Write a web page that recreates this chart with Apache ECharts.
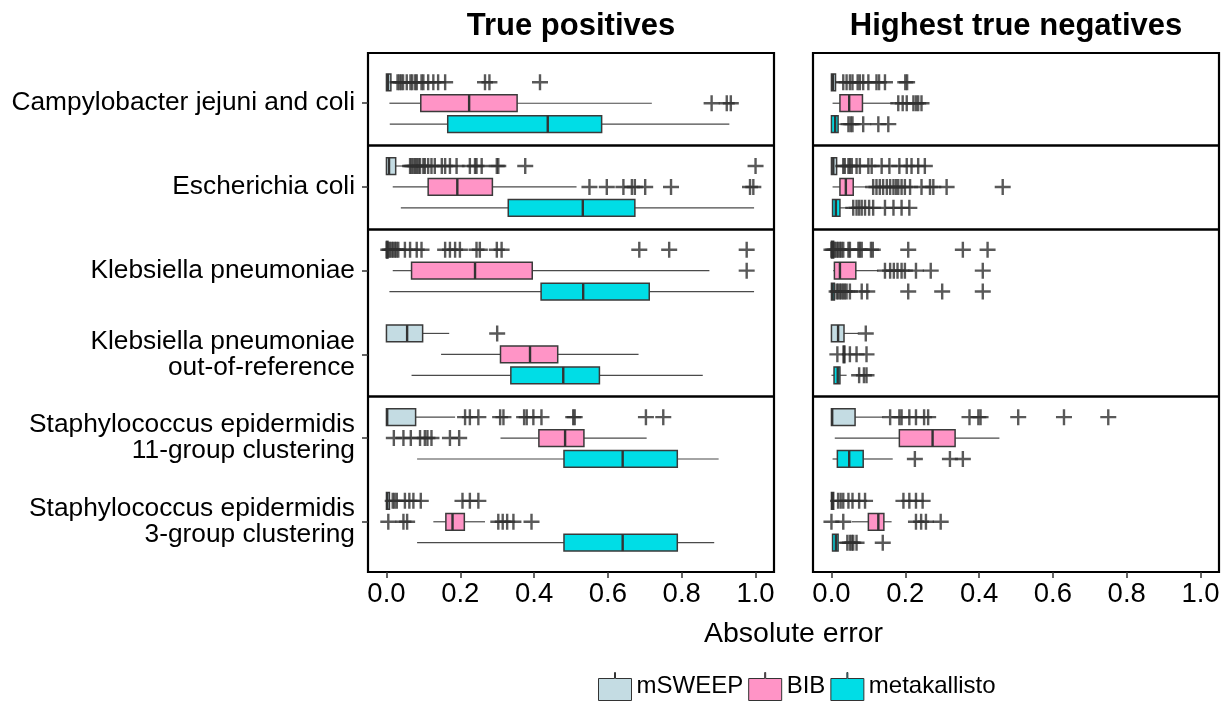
<!DOCTYPE html>
<html><head><meta charset="utf-8">
<script src="https://cdn.jsdelivr.net/npm/echarts@6/dist/echarts.min.js"></script>
<style>html,body{margin:0;padding:0;background:#fff}#c{width:1231px;height:704px}</style>
</head><body><div id="c"></div>
<script>
// ---------------- data ----------------
const categories = [
  'Campylobacter jejuni and coli',
  'Escherichia coli',
  'Klebsiella pneumoniae',
  'Klebsiella pneumoniae\nout-of-reference',
  'Staphylococcus epidermidis\n11-group clustering',
  'Staphylococcus epidermidis\n3-group clustering'
];
const methods = ['mSWEEP', 'BIB', 'metakallisto'];
const panelTitles = ['True positives', 'Highest true negatives'];
const xAxisTitle = 'Absolute error';
const xTicks = [0, 0.2, 0.4, 0.6, 0.8, 1.0];
const facetBreaks = [0.5, 1.5, 3.5];

// box stats per row: [lower whisker, q1, median, q3, upper whisker]
const tpMsweepBox = [
  [0, 0, 0.004, 0.012, 0.025],
  [0, 0, 0.007, 0.025, 0.058],
  [0, 0, 0.001, 0.004, 0.008],
  [0, 0, 0.056, 0.098, 0.17],
  [0, 0, 0.002, 0.079, 0.186],
  [0, 0, 0.002, 0.008, 0.014]
];
const tpMsweepOut = [
  [0.03, 0.035, 0.04, 0.045, 0.055, 0.065, 0.07, 0.078, 0.082, 0.095, 0.1, 0.113, 0.127, 0.14, 0.159, 0.267, 0.279, 0.416],
  [0.064, 0.068, 0.073, 0.078, 0.082, 0.087, 0.091, 0.1, 0.104, 0.113, 0.122, 0.131, 0.15, 0.159, 0.172, 0.19, 0.226, 0.24, 0.244, 0.258, 0.299, 0.303, 0.376, 1.0],
  [0.005, 0.009, 0.014, 0.018, 0.023, 0.027, 0.032, 0.05, 0.064, 0.082, 0.095, 0.159, 0.172, 0.186, 0.199, 0.244, 0.253, 0.299, 0.312, 0.685, 0.766, 0.976],
  [0.3],
  [0.213, 0.226, 0.249, 0.308, 0.317, 0.373, 0.38, 0.398, 0.42, 0.506, 0.51, 0.703, 0.75],
  [0.017, 0.022, 0.028, 0.05, 0.062, 0.073, 0.093, 0.206, 0.226, 0.249]
];
const tpBibBox = [
  [0.008, 0.093, 0.224, 0.354, 0.719],
  [0.017, 0.113, 0.192, 0.287, 0.515],
  [0.017, 0.068, 0.24, 0.395, 0.875],
  [0.148, 0.309, 0.389, 0.464, 0.683],
  [0.309, 0.413, 0.484, 0.535, 0.705],
  [0.127, 0.161, 0.179, 0.211, 0.267]
];
const tpBibOut = [
  [0.881, 0.922, 0.933],
  [0.55, 0.597, 0.642, 0.665, 0.673, 0.701, 0.771, 0.985, 0.994],
  [0.976],
  [],
  [0.02, 0.046, 0.066, 0.091, 0.104, 0.111, 0.122, 0.172, 0.197],
  [0.005, 0.046, 0.056, 0.303, 0.315, 0.327, 0.344, 0.393]
];
const tpMetaBox = [
  [0.009, 0.166, 0.437, 0.583, 0.929],
  [0.039, 0.33, 0.532, 0.673, 0.996],
  [0.008, 0.419, 0.533, 0.712, 0.996],
  [0.068, 0.337, 0.479, 0.577, 0.857],
  [0.083, 0.481, 0.64, 0.788, 0.9],
  [0.083, 0.481, 0.64, 0.788, 0.888]
];
const tpMetaOut = [[], [], [], [], [], []];

const htnMsweepBox = [
  [0, 0, 0.004, 0.011, 0.025],
  [0, 0, 0.005, 0.014, 0.03],
  [0, 0, 0.002, 0.006, 0.012],
  [0, 0, 0.018, 0.034, 0.073],
  [0, 0, 0.002, 0.064, 0.14],
  [0, 0, 0.002, 0.006, 0.014]
];
const htnMsweepOut = [
  [0.032, 0.041, 0.05, 0.057, 0.071, 0.077, 0.086, 0.1, 0.122, 0.129, 0.145, 0.2, 0.205],
  [0.032, 0.036, 0.046, 0.05, 0.055, 0.068, 0.077, 0.1, 0.109, 0.136, 0.157, 0.184, 0.204, 0.217, 0.235, 0.253],
  [0.0, 0.005, 0.009, 0.014, 0.018, 0.023, 0.027, 0.032, 0.046, 0.05, 0.073, 0.077, 0.082, 0.107, 0.112, 0.208, 0.356, 0.423],
  [0.093],
  [0.159, 0.184, 0.19, 0.211, 0.229, 0.251, 0.262, 0.374, 0.398, 0.404, 0.506, 0.63, 0.75],
  [0.018, 0.025, 0.032, 0.046, 0.057, 0.075, 0.091, 0.195, 0.211, 0.229, 0.247]
];
const htnBibBox = [
  [0.003, 0.023, 0.048, 0.084, 0.168],
  [0.003, 0.023, 0.039, 0.059, 0.095],
  [0.005, 0.008, 0.023, 0.066, 0.127],
  [0.03, 0.032, 0.034, 0.036, 0.04],
  [0.009, 0.184, 0.274, 0.335, 0.455],
  [0.055, 0.1, 0.127, 0.142, 0.163]
];
const htnBibOut = [
  [0.181, 0.193, 0.204, 0.222, 0.229, 0.235, 0.244],
  [0.113, 0.122, 0.131, 0.14, 0.15, 0.159, 0.168, 0.175, 0.181, 0.19, 0.199, 0.213, 0.244, 0.267, 0.276, 0.312, 0.464],
  [0.145, 0.159, 0.169, 0.179, 0.19, 0.199, 0.229, 0.269, 0.41],
  [0.016, 0.05, 0.068, 0.095],
  [],
  [0.0, 0.032, 0.229, 0.243, 0.256, 0.296]
];
const htnMetaBox = [
  [0, 0, 0.01, 0.018, 0.03],
  [0.003, 0.003, 0.012, 0.023, 0.045],
  [0, 0, 0.003, 0.008, 0.012],
  [0.0, 0.007, 0.017, 0.023, 0.041],
  [0.003, 0.016, 0.048, 0.086, 0.166],
  [0.003, 0.003, 0.012, 0.018, 0.04]
];
const htnMetaOut = [
  [0.046, 0.052, 0.057, 0.086, 0.127, 0.154],
  [0.059, 0.068, 0.075, 0.082, 0.091, 0.102, 0.113, 0.145, 0.168, 0.19, 0.211],
  [0.014, 0.018, 0.023, 0.027, 0.032, 0.036, 0.041, 0.05, 0.082, 0.097, 0.208, 0.3, 0.41],
  [0.075, 0.088, 0.095],
  [0.226, 0.321, 0.356],
  [0.043, 0.05, 0.055, 0.059, 0.068, 0.139]
];

// ---------------- styling / layout ----------------
const colors = ['#c4dce3', '#ff94c6', '#00dde6'];
const dodge = [-0.25, 0, 0.25];
const FONT = '"Liberation Sans", Arial, Helvetica, sans-serif';
const plusPath = 'path://M6.8,0h2.4v6.8h6.8v2.4h-6.8v6.8h-2.4v-6.8h-6.8v-2.4h6.8z';
const legendIcon = 'path://M16,0h1v6h16v22h-33v-22h16z';

const panels = [
  { box: [tpMsweepBox, tpBibBox, tpMetaBox], out: [tpMsweepOut, tpBibOut, tpMetaOut] },
  { box: [htnMsweepBox, htnBibBox, htnMetaBox], out: [htnMsweepOut, htnBibOut, htnMetaOut] }
];
const gridLefts = [368, 813];
const gridTop = 53, gridW = 406, gridH = 519;
const rowIdx = categories.map((_, i) => i);

function boxSeries(p, m, boxes) {
  return {
    type: 'custom', name: methods[m], xAxisIndex: p, yAxisIndex: p,
    itemStyle: { color: colors[m], borderColor: '#333', borderWidth: 1 },
    data: boxes.map((b, i) => [i].concat(b)),
    encode: { x: [1, 2, 3, 4, 5], y: 0 },
    silent: true,
    renderItem: function (params, api) {
      const row = api.value(0) + dodge[m];
      const pLo = api.coord([api.value(1), row]);
      const pQ1 = api.coord([api.value(2), row]);
      const pMed = api.coord([api.value(3), row]);
      const pQ3 = api.coord([api.value(4), row]);
      const pHi = api.coord([api.value(5), row]);
      const h = Math.abs(api.size([0, 0.2])[1]);
      const y = pLo[1];
      return {
        type: 'group', children: [
          { type: 'line', shape: { x1: pLo[0], y1: y, x2: pQ1[0], y2: y }, style: { stroke: '#4a4a4a', lineWidth: 1.2 } },
          { type: 'line', shape: { x1: pQ3[0], y1: y, x2: pHi[0], y2: y }, style: { stroke: '#4a4a4a', lineWidth: 1.2 } },
          { type: 'rect', shape: { x: pQ1[0], y: y - h / 2, width: Math.max(pQ3[0] - pQ1[0], 1.5), height: h },
            style: { fill: colors[m], stroke: '#3a3a3a', lineWidth: 1.5 } },
          { type: 'line', shape: { x1: pMed[0], y1: y - h / 2, x2: pMed[0], y2: y + h / 2 }, style: { stroke: '#333', lineWidth: 2.4 } }
        ]
      };
    }
  };
}

function outSeries(p, m, outs) {
  const s = {
    type: 'scatter', name: methods[m] + ' outliers', xAxisIndex: p, yAxisIndex: p,
    symbol: plusPath, symbolSize: 16, silent: true,
    itemStyle: { color: '#303030' },
    data: outs.flatMap((arr, i) => arr.map(v => [v, i + dodge[m]]))
  };
  if (m === 0) {
    s.markLine = {
      silent: true, symbol: 'none', animation: false,
      label: { show: false },
      lineStyle: { color: '#000', width: 2.6, type: 'solid' },
      data: facetBreaks.map(v => ({ yAxis: v }))
    };
  }
  return s;
}

const grids = [], xAxes = [], yAxes = [], series = [];
panels.forEach((pan, p) => {
  grids.push({ left: gridLefts[p], top: gridTop, width: gridW, height: gridH, show: true,
    borderColor: '#000', borderWidth: 2.2, backgroundColor: 'transparent', outerBoundsMode: 'none', containLabel: false });
  xAxes.push({
    type: 'value', gridIndex: p, min: -0.05, max: 1.05, position: 'bottom',
    axisLine: { show: false, onZero: false }, splitLine: { show: false },
    axisTick: { show: true, customValues: xTicks, length: 6, lineStyle: { color: '#333', width: 1.5 } },
    axisLabel: { customValues: xTicks, formatter: v => v.toFixed(1), fontSize: 27.5, color: '#000', margin: 8, fontFamily: FONT }
  });
  yAxes.push({
    type: 'value', gridIndex: p, min: -0.6, max: 5.6, inverse: true, position: 'left',
    axisLine: { show: false, onZero: false }, splitLine: { show: false },
    axisTick: { show: p === 0, customValues: rowIdx, length: 6, lineStyle: { color: '#333', width: 1.5 } },
    axisLabel: { show: p === 0, customValues: rowIdx, formatter: v => categories[Math.round(v)],
      fontSize: 26.3, lineHeight: 26, color: '#000', margin: 13, fontFamily: FONT, align: 'right' }
  });
});
panels.forEach((pan, p) => { pan.box.forEach((b, m) => series.push(boxSeries(p, m, b))); });
panels.forEach((pan, p) => { pan.out.forEach((o, m) => series.push(outSeries(p, m, o))); });

const chart = echarts.init(document.getElementById('c'), null, { renderer: 'canvas' });
chart.setOption({
  animation: false,
  backgroundColor: '#fff',
  textStyle: { fontFamily: FONT },
  grid: grids, xAxis: xAxes, yAxis: yAxes, series: series,
  legend: {
    data: methods, left: 598, top: 672, orient: 'horizontal', padding: 0,
    icon: legendIcon, itemWidth: 33, itemHeight: 28, itemGap: 5, selectedMode: false,
    itemStyle: { borderColor: '#333', borderWidth: 1 },
    textStyle: { fontSize: 24, color: '#000', fontFamily: FONT }
  },
  graphic: [
    { type: 'text', x: gridLefts[0] + gridW / 2, y: 26, silent: true,
      style: { text: panelTitles[0], font: 'bold 31px ' + FONT, fill: '#000', align: 'center', verticalAlign: 'middle', textAlign: 'center', textVerticalAlign: 'middle' } },
    { type: 'text', x: gridLefts[1] + gridW / 2, y: 26, silent: true,
      style: { text: panelTitles[1], font: 'bold 31px ' + FONT, fill: '#000', align: 'center', verticalAlign: 'middle', textAlign: 'center', textVerticalAlign: 'middle' } },
    { type: 'text', x: (gridLefts[0] + gridLefts[1] + gridW) / 2, y: 634, silent: true,
      style: { text: xAxisTitle, font: '28.5px ' + FONT, fill: '#000', align: 'center', verticalAlign: 'middle', textAlign: 'center', textVerticalAlign: 'middle' } }
  ]
});
</script>
</body></html>
